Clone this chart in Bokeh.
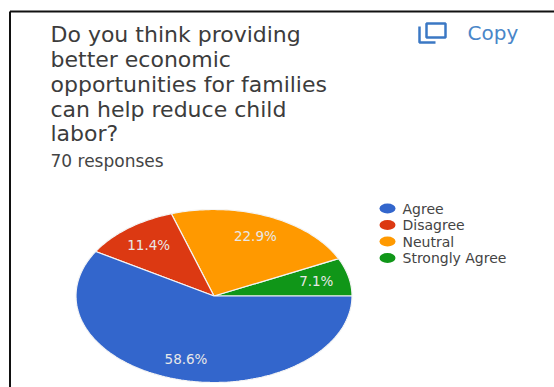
import math
from bokeh.core.properties import value
from bokeh.embed import file_html
from bokeh.models import ColumnDataSource, Range1d
from bokeh.plotting import figure
from bokeh.resources import INLINE

# Survey results
categories = ["Agree", "Disagree", "Neutral", "Strongly Agree"]
shares = [58.6, 11.4, 22.9, 7.1]
colors = ["#3366cc", "#dc3912", "#ff9900", "#109618"]
title_lines = [
    "Do you think providing",
    "better economic",
    "opportunities for families",
    "can help reduce child",
    "labor?",
]
responses_text = "70 responses"
copy_text = "Copy"

W, H = 554, 387
CX, CY, RX, RY = 213.5, 295.5, 138.0, 86.5
FONT = value("DejaVu Sans")

p = figure(width=W, height=H, x_range=Range1d(0, W), y_range=Range1d(H, 0),
           output_backend="svg", toolbar_location=None, min_border=0)
p.axis.visible = False
p.grid.visible = False
p.outline_line_color = None
p.background_fill_color = "white"

# Card border along the top and left edges
p.segment(x0=[9.5, 9.5], y0=[11, 11], x1=[W, 9.5], y1=[11, H],
          line_color="#111111", line_width=2)

# Pie slices run counter-clockwise from the 3 o'clock position, green first
def slice_outline(start_share, share):
    a0 = start_share / sum(shares) * 2 * math.pi
    a1 = (start_share + share) / sum(shares) * 2 * math.pi
    n = max(4, int(share * 3))
    xs, ys = [CX], [CY]
    for i in range(n + 1):
        a = a0 + (a1 - a0) * i / n
        xs.append(CX + RX * math.cos(a))
        ys.append(CY - RY * math.sin(a))
    return xs, ys

cum = 0.0
slice_xs, slice_ys, slice_colors, lx, ly, ltext = [], [], [], [], [], []
for i in reversed(range(len(shares))):
    xs, ys = slice_outline(cum, shares[i])
    slice_xs.append(xs)
    slice_ys.append(ys)
    slice_colors.append(colors[i])
    mid = (cum + shares[i] / 2) / sum(shares) * 2 * math.pi
    lx.append(CX + 0.76 * RX * math.cos(mid))
    ly.append(CY - 0.76 * RY * math.sin(mid))
    ltext.append(f"{shares[i]:.1f}%")
    cum += shares[i]

p.patches(slice_xs, slice_ys, fill_color=slice_colors, line_color="#f4f4f4", line_width=1.2)
p.text(lx, ly, text=ltext, text_color="#e8e8e8", text_font=FONT, text_font_size="13.5px",
       text_align="center", text_baseline="middle")

# Question heading
title_y = [34, 59, 84, 109, 133]
p.text([50] * 5, title_y, text=title_lines, text_color="#3c3c3c", text_font=FONT,
       text_font_size="22px", text_baseline="middle")
p.text([50], [160], text=[responses_text], text_color="#444444", text_font=FONT,
       text_font_size="17px", text_baseline="middle")

# Copy button: two overlapping outlined squares and a label
p.line([419, 419, 435], [26, 42, 42], line_color="#3b78c4", line_width=2.5)
p.quad(left=[426], right=[445], top=[23], bottom=[37], fill_color=None,
       line_color="#3b78c4", line_width=2.5)
p.text([467], [32], text=[copy_text], text_color="#4a86c8", text_font=FONT,
       text_font_size="20px", text_baseline="middle")

# Legend
legend_y = [208, 224.5, 241, 257.5]
legend = ColumnDataSource(dict(x=[387] * 4, y=legend_y, c=colors, t=categories, tx=[402] * 4))
p.ellipse("x", "y", width=16, height=10, fill_color="c", line_color=None, source=legend)
p.text("tx", "y", text="t", text_color="#444444", text_font=FONT, text_font_size="14px",
       text_baseline="middle", source=legend)

open("out.html", "w").write(file_html(p, INLINE))
